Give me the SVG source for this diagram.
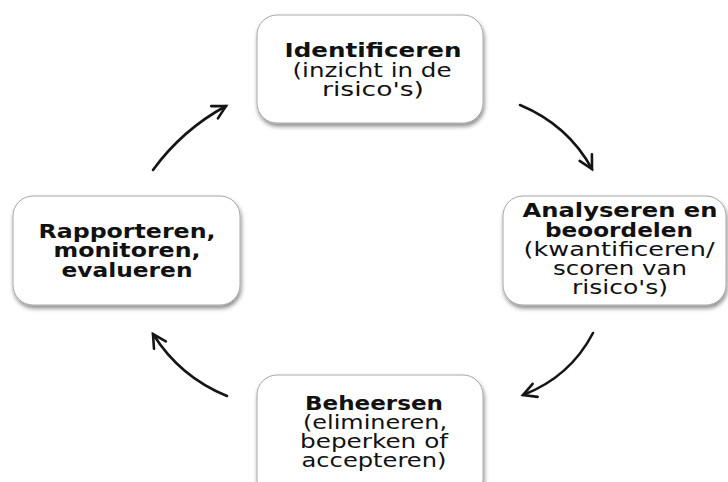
<svg xmlns="http://www.w3.org/2000/svg" width="728" height="482" viewBox="0 0 728 482">
<defs>
<filter id="sh" x="-10%" y="-10%" width="130%" height="140%">
<feDropShadow dx="1" dy="3" stdDeviation="2" flood-color="#000" flood-opacity="0.45"/>
</filter>
<marker id="ah" markerUnits="userSpaceOnUse" markerWidth="30" markerHeight="30" viewBox="-20 -15 30 30" refX="0" refY="0" orient="auto">
<path d="M-13,-7 L0,0 L-13,7" fill="none" stroke="#151515" stroke-width="2.6" stroke-linecap="round" stroke-linejoin="miter"/>
</marker>
<style>
.box{fill:#fff;stroke:#a8a8a8;stroke-width:1;filter:url(#sh)}
.t{font-family:"DejaVu Sans",Verdana,sans-serif;font-size:19px;fill:#111;text-anchor:middle}
.b{font-weight:bold}
.c{fill:none;stroke:#151515;stroke-width:2.6;stroke-linecap:round;marker-end:url(#ah)}
</style>
</defs>
<rect width="728" height="482" fill="#fff"/>
<g id="connectors">
<path class="c" d="M153,170 Q182,130 226,106"/>
<path class="c" d="M520,105 Q568,125 592,169"/>
<path class="c" d="M593,333 Q570,377 523,395"/>
<path class="c" d="M227,396 Q180,377 153,334"/>
</g>
<g id="identificeren">
<rect class="box" x="257" y="15" width="226" height="108" rx="20"/>
<text class="t b" x="373" y="57" textLength="177" lengthAdjust="spacingAndGlyphs">Identificeren</text>
<text class="t" x="372" y="77" textLength="159" lengthAdjust="spacingAndGlyphs">(inzicht in de</text>
<text class="t" x="373" y="96" textLength="102" lengthAdjust="spacingAndGlyphs">risico's)</text>
</g>
<g id="analyseren">
<rect class="box" x="503" y="196" width="223" height="109" rx="20"/>
<text class="t b" x="620" y="217" textLength="195" lengthAdjust="spacingAndGlyphs">Analyseren en</text>
<text class="t b" x="619" y="237" textLength="148" lengthAdjust="spacingAndGlyphs">beoordelen</text>
<text class="t" x="619" y="256" textLength="191" lengthAdjust="spacingAndGlyphs">(kwantificeren/</text>
<text class="t" x="620" y="275" textLength="134" lengthAdjust="spacingAndGlyphs">scoren van</text>
<text class="t" x="620" y="294" textLength="96" lengthAdjust="spacingAndGlyphs">risico's)</text>
</g>
<g id="beheersen">
<rect class="box" x="257" y="375" width="226" height="125" rx="20"/>
<text class="t b" x="374" y="410" textLength="138" lengthAdjust="spacingAndGlyphs">Beheersen</text>
<text class="t" x="375" y="429" textLength="144" lengthAdjust="spacingAndGlyphs">(elimineren,</text>
<text class="t" x="374" y="448" textLength="148" lengthAdjust="spacingAndGlyphs">beperken of</text>
<text class="t" x="374" y="467" textLength="145" lengthAdjust="spacingAndGlyphs">accepteren)</text>
</g>
<g id="rapporteren">
<rect class="box" x="13" y="196" width="227" height="109" rx="20"/>
<text class="t b" x="127" y="238" textLength="177" lengthAdjust="spacingAndGlyphs">Rapporteren,</text>
<text class="t b" x="127" y="257" textLength="147" lengthAdjust="spacingAndGlyphs">monitoren,</text>
<text class="t b" x="127" y="277" textLength="131" lengthAdjust="spacingAndGlyphs">evalueren</text>
</g>
</svg>
